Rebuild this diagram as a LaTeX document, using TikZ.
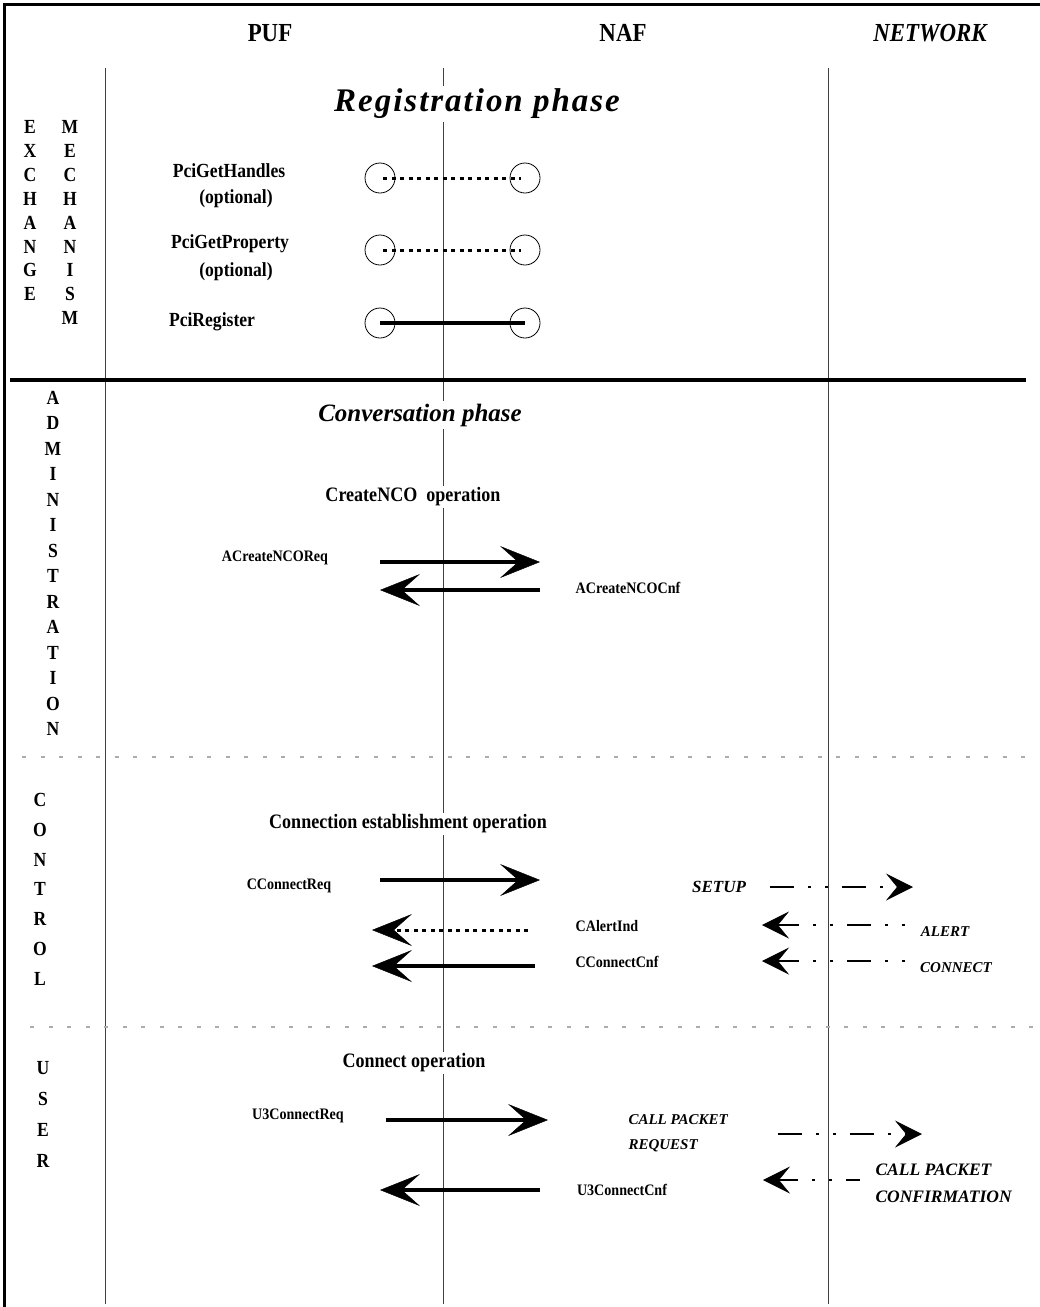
\documentclass[tikz,border=0pt]{standalone}
\usepackage{fontspec}
\setmainfont{Liberation Serif}
\newfontfamily\condserif[FakeStretch=0.88]{Liberation Serif}
\newfontfamily\spacedserif[LetterSpace=6]{Liberation Serif}
\usetikzlibrary{arrows.meta}

\tikzset{
  lifeline/.style={line width=0.9pt, black!75},
  frame/.style={line width=3pt, line cap=rect},
  phasebar/.style={line width=3.5pt},
  separator/.style={gray!65, line width=1.3pt, dash pattern=on 4pt off 14.5pt},
  bigtip/.style={-{Stealth[length=40pt,width=32pt,inset=18pt,line width=0.5pt]}},
  smalltip/.style={-{Stealth[length=27pt,width=27pt,inset=11pt,line width=0.5pt]}},
  msg/.style={line width=3.5pt, bigtip},
  dotmsg/.style={line width=3pt, dash pattern=on 4pt off 4.5pt, bigtip},
  netmsg/.style={line width=1.2pt, dash pattern=on 24pt off 14pt on 3pt off 14pt on 3pt off 14pt, smalltip},
  regline/.style={line width=3.5pt},
  regdots/.style={line width=3pt, dash pattern=on 4pt off 4.5pt},
  port/.style={circle, draw, line width=0.8pt, minimum size=30pt, inner sep=0pt},
  header/.style={font=\condserif\bfseries\fontsize{26}{29}\selectfont, inner sep=1pt},
  sideletter/.style={font=\condserif\bfseries\fontsize{20}{22}\selectfont, inner sep=0pt},
  phasetitle/.style={fill=white, inner sep=3pt},
  optitle/.style={fill=white, inner sep=2pt, font=\condserif\bfseries\fontsize{20.5}{23}\selectfont},
  itemlabel/.style={font=\condserif\bfseries\fontsize{20}{24}\selectfont, align=center},
  msglabel/.style={font=\condserif\bfseries\fontsize{16}{18}\selectfont},
  netlabel/.style={font=\bfseries\itshape\fontsize{16}{22}\selectfont, align=left},
}

\begin{document}
\begin{tikzpicture}[x=1pt, y=-1pt]
\useasboundingbox (0,0) rectangle (1040,1307);

% outer frame (top and left edges)
\draw[frame] (4,1307) -- (4,4) -- (1040,4);

% column headers
\node[header] (puf) at (270,33) {PUF};
\node[header] (naf) at (623,33) {NAF};
\node[header, font=\condserif\bfseries\itshape\fontsize{26}{29}\selectfont] (net) at (930,33) {NETWORK};

% lifelines
\coordinate (l1t) at (105,68);  \coordinate (l1b) at (105,1304);
\coordinate (l2t) at (443,68);  \coordinate (l2b) at (443,1304);
\coordinate (l3t) at (828,68);  \coordinate (l3b) at (828,1304);
\draw[lifeline] (l1t) -- (l1b);
\draw[lifeline] (l2t) -- (l2b);
\draw[lifeline] (l3t) -- (l3b);

% phase separators
\coordinate (b1l) at (10,380);  \coordinate (b1r) at (1026,380);
\draw[phasebar] (b1l) -- (b1r);
\coordinate (s1l) at (22,757);  \coordinate (s1r) at (1032,757);
\draw[separator] (s1l) -- (s1r);
\coordinate (s2l) at (30,1027); \coordinate (s2r) at (1038,1027);
\draw[separator] (s2l) -- (s2r);

% vertical side captions
\foreach \ch [count=\i from 0] in {E,X,C,H,A,N,G,E}
  \node[sideletter] at (30,127+23.9*\i) {\ch};
\foreach \ch [count=\i from 0] in {M,E,C,H,A,N,I,S,M}
  \node[sideletter] at (70,127+23.9*\i) {\ch};
\foreach \ch [count=\i from 0] in {A,D,M,I,N,I,S,T,R,A,T,I,O,N}
  \node[sideletter] at (53,398+25.46*\i) {\ch};
\foreach \ch [count=\i from 0] in {C,O,N,T,R,O,L}
  \node[sideletter] at (40,800+29.8*\i) {\ch};
\foreach \ch [count=\i from 0] in {U,S,E,R}
  \node[sideletter] at (43,1068+31*\i) {\ch};

% ---------------- registration phase
\node[phasetitle, font=\spacedserif\bfseries\itshape\fontsize{33}{36}\selectfont] (reg) at (477,104) {Registration phase};

\node[itemlabel] (gh) at (229,171) {PciGetHandles};
\node[itemlabel] (gho) at (236,199) {(optional)};
\node[itemlabel] (gp) at (230,244) {PciGetProperty};
\node[itemlabel] (gpo) at (236,272) {(optional)};
\node[itemlabel] (rg) at (212,322) {PciRegister};

\node[port] (ghl) at (380,178) {};
\node[port] (ghr) at (525,178) {};
\node[port] (gpl) at (380,250) {};
\node[port] (gpr) at (525,250) {};
\node[port] (rgl) at (380,323) {};
\node[port] (rgr) at (525,323) {};
\draw[regdots] ([xshift=3pt]ghl.center) -- ([xshift=-4pt]ghr.center);
\draw[regdots] ([xshift=3pt]gpl.center) -- ([xshift=-4pt]gpr.center);
\draw[regline] (rgl.center) -- (rgr.center);

% ---------------- conversation phase
\node[phasetitle, font=\bfseries\itshape\fontsize{25}{27}\selectfont] (conv) at (420,415) {Conversation phase};

% administration: CreateNCO
\node[optitle] (cnco) at (413,497) {CreateNCO\ \ operation};
\node[msglabel] (acr) at (275,558) {ACreateNCOReq};
\node[msglabel] (acc) at (628,588) {ACreateNCOCnf};
\coordinate (a1s) at (380,562); \coordinate (a1e) at (540,562);
\coordinate (a2s) at (540,590); \coordinate (a2e) at (380,590);
\draw[msg] (a1s) -- (a1e);
\draw[msg] (a2s) -- (a2e);

% control: connection establishment
\node[optitle] (cest) at (408,824) {Connection establishment operation};
\node[msglabel] (ccr) at (289,886) {CConnectReq};
\node[msglabel] (cai) at (607,926) {CAlertInd};
\node[msglabel] (ccc) at (617,962) {CConnectCnf};
\coordinate (c1s) at (380,880); \coordinate (c1e) at (540,880);
\coordinate (c2s) at (528,930); \coordinate (c2e) at (372,930);
\coordinate (c3s) at (535,966); \coordinate (c3e) at (372,966);
\draw[msg] (c1s) -- (c1e);
\draw[dotmsg] (c2s) -- (c2e);
\draw[msg] (c3s) -- (c3e);

\node[netlabel, font=\bfseries\itshape\fontsize{17}{20}\selectfont] (setup) at (719,887) {SETUP};
\node[netlabel, font=\bfseries\itshape\fontsize{15}{18}\selectfont] (alert) at (945,932) {ALERT};
\node[netlabel, font=\bfseries\itshape\fontsize{15}{18}\selectfont] (conn) at (956,968) {CONNECT};
\coordinate (n1s) at (770,887); \coordinate (n1e) at (913,887);
\coordinate (n2s) at (905,925); \coordinate (n2e) at (762,925);
\coordinate (n3s) at (905,961); \coordinate (n3e) at (762,961);
\draw[netmsg] (n1s) -- (n1e);
\draw[netmsg, dash phase=38pt] (n2s) -- (n2e);
\draw[netmsg, dash phase=38pt] (n3s) -- (n3e);

% user: connect
\node[optitle] (uop) at (414,1063) {Connect operation};
\node[msglabel] (ucr) at (298,1116) {U3ConnectReq};
\node[msglabel] (ucc) at (622,1190) {U3ConnectCnf};
\coordinate (u1s) at (386,1120); \coordinate (u1e) at (548,1120);
\coordinate (u2s) at (540,1190); \coordinate (u2e) at (380,1190);
\draw[msg] (u1s) -- (u1e);
\draw[msg] (u2s) -- (u2e);

\node[netlabel, anchor=west, font=\bfseries\itshape\fontsize{15}{25}\selectfont] (cpr) at (625,1133) {CALL PACKET\\REQUEST};
\node[netlabel, anchor=west, font=\bfseries\itshape\fontsize{17.5}{27}\selectfont] (cpc) at (872,1183) {CALL PACKET\\CONFIRMATION};
\coordinate (u3s) at (778,1134); \coordinate (u3e) at (922,1134);
\coordinate (u4s) at (860,1180); \coordinate (u4e) at (763,1180);
\draw[netmsg] (u3s) -- (u3e);
\draw[netmsg, dash phase=10pt] (u4s) -- (u4e);

\end{tikzpicture}
\end{document}
